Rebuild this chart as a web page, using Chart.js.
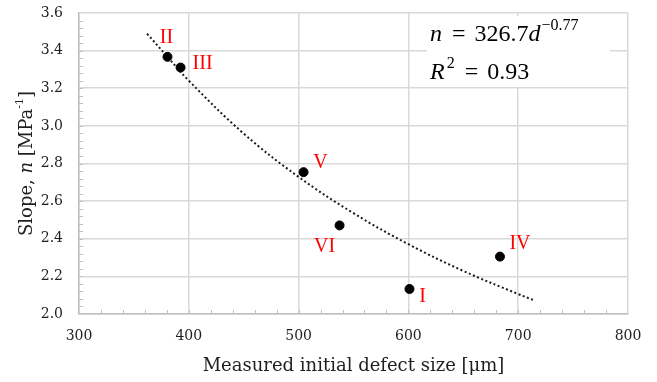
<!DOCTYPE html>
<html>
<head>
<meta charset="utf-8">
<script src="https://cdn.jsdelivr.net/npm/chart.js@4/dist/chart.umd.min.js"></script>
<style>
  body { margin: 0; background: #fff; }
</style>
</head>
<body>
<canvas id="chart" width="657" height="382"></canvas>
<script>
// -------------------------
// Datos
// -------------------------
const specimens = ["I", "II", "III", "IV", "V", "VI"];
const defectSize = [601, 380.6, 392.5, 683.4, 504.5, 537.3];   // µm
const slopeN = [2.133, 3.367, 3.31, 2.305, 2.754, 2.471];      // MPa^-1

// curva de ajuste (n = 326.7 d^-0.77)
const fitSize = [362, 380, 400, 450, 500, 550, 600, 650, 700, 715];
const fitSlope = [3.49, 3.371, 3.24, 2.959, 2.729, 2.536, 2.371, 2.229, 2.106, 2.072];

const xTicks = [300, 400, 500, 600, 700, 800];
const yTicks = [2.0, 2.2, 2.4, 2.6, 2.8, 3.0, 3.2, 3.4, 3.6];
// -------------------------

const serif = "'Liberation Serif', 'DejaVu Serif', serif";
const axisSerif = "'DejaVu Serif', serif";
// desplazamiento de cada etiqueta respecto a su punto (px)
const labelOffset = { I: [13, 8], II: [-1, -19], III: [22, -4], IV: [20, -13], V: [17, -9], VI: [-15, 21] };

// dibuja texto por partes: [texto, fuente, desplazamiento vertical, espacio extra antes]
function drawPieces(ctx, pieces, x, y) {
  pieces.forEach(([txt, font, dy, gap]) => {
    x += gap || 0;
    ctx.font = font;
    ctx.fillText(txt, x, y + (dy || 0));
    x += ctx.measureText(txt).width;
  });
}

const extras = {
  id: "extras",
  beforeDatasetsDraw(chart) {
    const ctx = chart.ctx;
    const xs = chart.scales.x, ys = chart.scales.y;
    const area = chart.chartArea;
    ctx.save();
    // marcas menores hacia dentro
    ctx.strokeStyle = "#bfbfbf";
    ctx.lineWidth = 1;
    ctx.beginPath();
    for (let v = 320; v < 800; v += 20) {
      const px = Math.round(xs.getPixelForValue(v)) + 0.5;
      ctx.moveTo(px, area.bottom);
      ctx.lineTo(px, area.bottom - 4);
    }
    for (let i = 1; i < 40; i++) {
      const py = Math.round(ys.getPixelForValue(2 + i * 0.04)) + 0.5;
      ctx.moveTo(area.left, py);
      ctx.lineTo(area.left + 4, py);
    }
    ctx.stroke();
    // fondo blanco de la ecuación
    ctx.fillStyle = "#fff";
    ctx.fillRect(427, 16, 183, 71);
    ctx.restore();
  },
  afterDatasetsDraw(chart) {
    const ctx = chart.ctx;
    const meta = chart.getDatasetMeta(0);
    ctx.save();
    // etiquetas rojas
    ctx.fillStyle = "#ff0000";
    ctx.font = "20px " + serif;
    ctx.textAlign = "center";
    ctx.textBaseline = "middle";
    meta.data.forEach((pt, i) => {
      const off = labelOffset[specimens[i]];
      ctx.fillText(specimens[i], pt.x + off[0], pt.y + off[1]);
    });
    // ecuación
    ctx.fillStyle = "#000";
    ctx.textAlign = "left";
    ctx.textBaseline = "alphabetic";
    const it = "italic 24px " + serif, rg = "24px " + serif, sup = "16px " + serif;
    drawPieces(ctx, [["n", it], ["=", rg, 0, 10], ["326.7", rg, 0, 9], ["d", it], ["\u22120.77", sup, -11, 1]], 430, 41);
    drawPieces(ctx, [["R", it], ["2", sup, -11, 2], ["=", rg, 0, 10], ["0.93", rg, 0, 9]], 430, 79);
    // título eje Y
    ctx.translate(27, (chart.chartArea.top + chart.chartArea.bottom) / 2);
    ctx.rotate(-Math.PI / 2);
    ctx.fillStyle = "#1f1f1f";
    const ttl = [["Slope, ", "18px " + axisSerif], ["n", "italic 18px " + axisSerif], [" [MPa", "18px " + axisSerif], ["-1", "11px " + axisSerif, -7], ["]", "18px " + axisSerif]];
    let w = 0;
    ttl.forEach(([t, f]) => { ctx.font = f; w += ctx.measureText(t).width; });
    ctx.textBaseline = "middle";
    drawPieces(ctx, ttl, -w / 2, 0);
    ctx.restore();
  }
};

const ctx = document.getElementById("chart").getContext("2d");
const chart = new Chart(ctx, {
  type: "scatter",
  data: {
    datasets: [
      {
        data: defectSize.map((d, i) => ({ x: d, y: slopeN[i] })),
        backgroundColor: "#000",
        borderColor: "#000",
        pointRadius: 4.5,
        showLine: false,
      },
      {
        data: fitSize.map((d, i) => ({ x: d, y: fitSlope[i] })),
        showLine: true,
        borderColor: "#1a1a1a",
        borderWidth: 2,
        borderDash: [2, 2.5],
        pointRadius: 0,
        tension: 0.4,
        fill: false,
      },
    ],
  },
  options: {
    responsive: false,
    animation: false,
    layout: { padding: { top: 13, right: 29, left: 0, bottom: 0 } },
    plugins: { legend: { display: false }, tooltip: { enabled: false } },
    scales: {
      x: {
        type: "linear",
        min: 300,
        max: 800,
        afterBuildTicks: (s) => { s.ticks = xTicks.map((v) => ({ value: v })); },
        afterFit: (s) => { s.height = 68; s.paddingLeft = 0; s.paddingRight = 0; },
        ticks: { color: "#1f1f1f", font: { family: axisSerif, size: 14 }, padding: 14 },
        grid: { color: "#d9d9d9", lineWidth: 1.5, drawTicks: false, tickLength: 0 },
        border: { color: "#bfbfbf", width: 1.5 },
        title: {
          display: true,
          text: "Measured initial defect size [\u03bcm]",
          color: "#1f1f1f",
          font: { family: axisSerif, size: 18 },
          padding: { top: 0, bottom: 5 },
        },
      },
      y: {
        min: 2,
        max: 3.6,
        afterBuildTicks: (s) => { s.ticks = yTicks.map((v) => ({ value: v })); },
        afterFit: (s) => { s.width = 79; s.paddingTop = 0; s.paddingBottom = 0; },
        ticks: { color: "#1f1f1f", font: { family: axisSerif, size: 14 }, padding: 16, callback: (v) => v.toFixed(1) },
        grid: { color: "#d9d9d9", lineWidth: 1.5, drawTicks: false, tickLength: 0 },
        border: { color: "#bfbfbf", width: 1.5 },
      },
    },
  },
  plugins: [extras],
});
</script>
</body>
</html>
